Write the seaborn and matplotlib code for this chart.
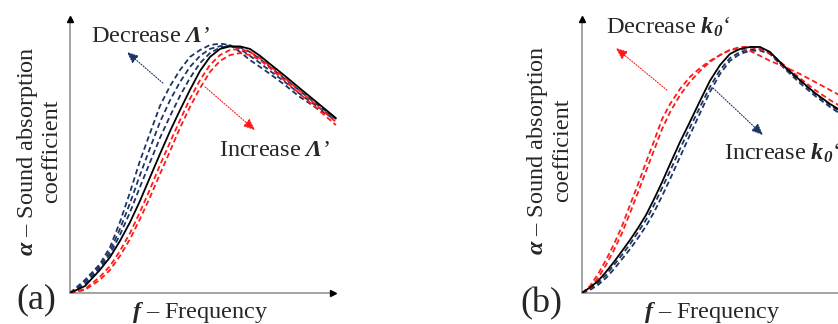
import matplotlib
matplotlib.use("Agg")
import matplotlib.pyplot as plt
import numpy as np
import pandas as pd
import seaborn as sns

# ---------------- data (normalised frequency, absorption coefficient) ----------------
# Panel (a): effect of the thermal characteristic length
freq_a = [0.000, 0.056, 0.112, 0.150, 0.187, 0.225, 0.262, 0.300, 0.337, 0.375,
          0.412, 0.449, 0.487, 0.524, 0.562, 0.599, 0.637, 0.674, 0.712, 0.749,
          0.805, 0.861, 0.918, 0.996]
ref_a = [0.000, 0.025, 0.083, 0.129, 0.187, 0.255, 0.331, 0.417, 0.500, 0.583,
         0.658, 0.730, 0.799, 0.849, 0.878, 0.887, 0.887, 0.878, 0.853, 0.824,
         0.781, 0.736, 0.691, 0.629]
dec1_a = [0.000, 0.047, 0.104, 0.165, 0.255, 0.363, 0.475, 0.576, 0.673, 0.745,
          0.802, 0.849, 0.874, 0.892, 0.897, 0.892, 0.867, 0.838, 0.813, 0.788,
          0.748, 0.705, 0.669, 0.622]
dec2_a = [0.000, 0.040, 0.097, 0.151, 0.230, 0.324, 0.424, 0.522, 0.615, 0.694,
          0.759, 0.813, 0.853, 0.878, 0.888, 0.890, 0.878, 0.853, 0.827, 0.799,
          0.759, 0.716, 0.676, 0.626]
dec3_a = [0.000, 0.032, 0.090, 0.140, 0.209, 0.291, 0.381, 0.471, 0.558, 0.637,
          0.709, 0.773, 0.827, 0.863, 0.883, 0.888, 0.883, 0.867, 0.842, 0.813,
          0.770, 0.727, 0.683, 0.629]
inc1_a = [0.000, 0.014, 0.058, 0.097, 0.151, 0.216, 0.291, 0.374, 0.460, 0.543,
          0.622, 0.698, 0.766, 0.820, 0.856, 0.874, 0.878, 0.867, 0.845, 0.817,
          0.773, 0.727, 0.680, 0.615]
inc2_a = [0.000, 0.011, 0.047, 0.083, 0.133, 0.194, 0.266, 0.345, 0.428, 0.511,
          0.594, 0.669, 0.737, 0.795, 0.835, 0.856, 0.863, 0.856, 0.838, 0.809,
          0.763, 0.716, 0.669, 0.604]

# Panel (b): effect of the static thermal permeability
freq_b = [0.000, 0.030, 0.060, 0.090, 0.120, 0.150, 0.180, 0.210, 0.240, 0.270,
          0.300, 0.330, 0.367, 0.404, 0.442, 0.479, 0.517, 0.554, 0.592, 0.629,
          0.667, 0.704, 0.760, 0.816, 0.873, 0.929, 0.985]
ref_b = [0.000, 0.020, 0.043, 0.076, 0.112, 0.151, 0.191, 0.234, 0.281, 0.338,
         0.399, 0.464, 0.543, 0.615, 0.691, 0.763, 0.820, 0.860, 0.878, 0.885,
         0.885, 0.867, 0.813, 0.766, 0.719, 0.680, 0.647]
inc1_b = [0.000, 0.014, 0.036, 0.065, 0.101, 0.137, 0.176, 0.219, 0.263, 0.317,
          0.378, 0.439, 0.518, 0.594, 0.669, 0.741, 0.802, 0.845, 0.867, 0.876,
          0.878, 0.863, 0.809, 0.763, 0.716, 0.676, 0.640]
inc2_b = [0.000, 0.011, 0.029, 0.054, 0.086, 0.122, 0.158, 0.198, 0.241, 0.291,
          0.349, 0.410, 0.489, 0.568, 0.647, 0.723, 0.788, 0.835, 0.860, 0.871,
          0.872, 0.860, 0.806, 0.755, 0.709, 0.669, 0.633]
dec1_b = [0.000, 0.025, 0.068, 0.119, 0.176, 0.241, 0.317, 0.392, 0.471, 0.547,
          0.626, 0.680, 0.734, 0.777, 0.809, 0.835, 0.856, 0.874, 0.879, 0.871,
          0.853, 0.835, 0.813, 0.788, 0.759, 0.730, 0.701]
dec2_b = [0.000, 0.018, 0.054, 0.101, 0.155, 0.216, 0.288, 0.363, 0.439, 0.514,
          0.590, 0.651, 0.712, 0.759, 0.799, 0.831, 0.856, 0.874, 0.885, 0.885,
          0.878, 0.863, 0.817, 0.773, 0.730, 0.694, 0.662]

NAVY = "#1d3566"
RED = "#ff1a1a"

curves_a = {"dec1": (dec1_a, NAVY), "dec2": (dec2_a, NAVY), "dec3": (dec3_a, NAVY),
            "inc1": (inc1_a, RED), "inc2": (inc2_a, RED), "ref": (ref_a, "black")}
curves_b = {"inc1": (inc1_b, NAVY), "inc2": (inc2_b, NAVY),
            "dec1": (dec1_b, RED), "dec2": (dec2_b, RED), "ref": (ref_b, "black")}

# ---------------- style ----------------
sns.set_style("white")
plt.rcParams["font.family"] = ["Liberation Serif", "DejaVu Serif"]
plt.rcParams["mathtext.fontset"] = "custom"
plt.rcParams["mathtext.rm"] = "Liberation Serif"
plt.rcParams["mathtext.it"] = "Liberation Serif:italic"
plt.rcParams["mathtext.bf"] = "Liberation Serif:bold"
plt.rcParams["mathtext.bfit"] = "Liberation Serif:bold:italic"

W, H = 838, 324
fig = plt.figure(figsize=(W / 100, H / 100), dpi=100)


def fx(x):
    return x / W


def fy(y):
    return 1 - y / H


FS = 17.5


def make_panel(left_px, curves, freq):
    ax = fig.add_axes([fx(left_px), fy(293), 267 / W, 278 / H])
    rows = []
    for name, (vals, _) in curves.items():
        rows.append(pd.DataFrame({"freq": freq, "alpha": vals, "curve": name}))
    df = pd.concat(rows, ignore_index=True)
    palette = {k: c for k, (_, c) in curves.items()}
    dashes = {k: ("" if k == "ref" else (3, 1.8)) for k in curves}
    sns.lineplot(data=df, x="freq", y="alpha", hue="curve", style="curve",
                 palette=palette, dashes=dashes, estimator=None, sort=False,
                 linewidth=1.3, legend=False, ax=ax)
    ax.set_xlim(0, 1)
    ax.set_ylim(0, 1)
    ax.set_xticks([])
    ax.set_yticks([])
    ax.set_xlabel("")
    ax.set_ylabel("")
    for s in ax.spines.values():
        s.set_visible(False)
    ax.patch.set_alpha(0)
    # axis lines with arrow heads
    ax.plot([0, 0], [0, 0.985], color="#8a8a8a", lw=1.1, transform=ax.transAxes,
            clip_on=False, zorder=1)
    ax.plot([0, 0.985], [0, 0], color="#8a8a8a", lw=1.1, transform=ax.transAxes,
            clip_on=False, zorder=1)
    ax.plot([0], [0.985], marker="^", color="black", markersize=5,
            transform=ax.transAxes, clip_on=False)
    ax.plot([0.985], [0], marker=">", color="black", markersize=5,
            transform=ax.transAxes, clip_on=False)
    return ax


ax_a = make_panel(70, curves_a, freq_a)
ax_b = make_panel(582, curves_b, freq_b)


def trend_arrow(ax, start, end, color):
    ax.annotate("", xy=end, xytext=start,
                arrowprops=dict(arrowstyle="-|>,head_length=0.7,head_width=0.3",
                                color=color, lw=0.8, linestyle=(0, (1, 1.5)),
                                shrinkA=0, shrinkB=0), zorder=5)


trend_arrow(ax_a, (0.348, 0.755), (0.213, 0.867), NAVY)
trend_arrow(ax_a, (0.506, 0.741), (0.693, 0.586), RED)
trend_arrow(ax_b, (0.318, 0.730), (0.127, 0.881), RED)
trend_arrow(ax_b, (0.491, 0.737), (0.678, 0.568), NAVY)

ax_a.text(0.079, 0.903, r"Decrease $\mathbfit{Λ}$’", fontsize=FS, va="baseline")
ax_a.text(0.558, 0.493, r"Increase $\mathbfit{Λ}$’", fontsize=FS, va="baseline")
ax_b.text(0.090, 0.932, r"Decrease $\mathbfit{k}_{\mathbfit{0}}$‘", fontsize=FS,
          va="baseline")
ax_b.text(0.533, 0.478, r"Increase $\mathbfit{k}_{\mathbfit{0}}$‘", fontsize=FS,
          va="baseline", clip_on=False)

ylab = "$\\mathbfit{α}$ – Sound absorption\ncoefficient"
fig.text(fx(38.5), fy(151), ylab, rotation=90, ha="center", va="center",
         multialignment="center", fontsize=FS, linespacing=1.1)
fig.text(fx(549), fy(150), ylab, rotation=90, ha="center", va="center",
         multialignment="center", fontsize=FS, linespacing=1.1)

fig.text(fx(200), fy(318), r"$\mathbfit{f}$ – Frequency", ha="center",
         va="baseline", fontsize=FS)
fig.text(fx(712), fy(318), r"$\mathbfit{f}$ – Frequency", ha="center",
         va="baseline", fontsize=FS)

fig.text(fx(36), fy(300), "(a)", ha="center", va="center", fontsize=26)
fig.text(fx(541), fy(304), "(b)", ha="center", va="center", fontsize=26)

fig.savefig("out.png", dpi=100)
